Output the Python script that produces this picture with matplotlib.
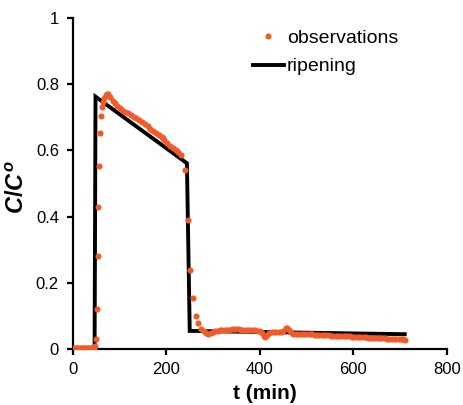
import matplotlib
matplotlib.use("Agg")
import matplotlib.pyplot as plt

plt.rcParams['font.family'] = ['Liberation Sans', 'DejaVu Sans']
plt.rcParams['mathtext.fontset'] = 'custom'
plt.rcParams['mathtext.it'] = 'Liberation Sans:italic:bold'
plt.rcParams['mathtext.rm'] = 'Liberation Sans:bold'

# observations (t in min, C/Co)
obs_t = [0, 3, 6, 9, 12, 15, 18, 21, 24, 27, 30, 33, 36, 39, 42, 45, 47,
         49.2, 50.7, 52.8, 54.1, 56.3, 57.8, 59.9, 61.4,
         64, 67, 70, 73, 76, 80, 85, 90, 95, 100, 106, 112, 118, 124, 130, 136,
         142, 148, 154, 160, 166, 172, 178, 184, 190, 193, 196, 202, 208, 214,
         220, 226, 232,
         239.6, 245.3, 251, 257.4, 263, 268, 275,
         280, 285, 290, 295, 300, 305, 310, 315, 320, 325, 330, 335, 340, 345,
         350, 355, 360, 365, 370, 375, 380, 385, 390, 395, 400, 405, 409, 412,
         416, 420, 425, 430, 435, 440, 445, 450, 455, 459, 463, 467, 472, 477,
         482, 487, 492, 497, 502, 507, 512, 517, 522, 527, 532, 537, 542, 547,
         552, 557, 562, 567, 572, 577, 582, 587, 592, 597, 602, 607, 612, 617,
         622, 627, 632, 637, 642, 647, 652, 657, 662, 667, 672, 677, 682, 687,
         692, 697, 702, 707, 710]
obs_c = [0.002, 0.002, 0.002, 0.002, 0.002, 0.002, 0.002, 0.002, 0.002, 0.002,
         0.002, 0.002, 0.002, 0.003, 0.003, 0.004, 0.008,
         0.03, 0.12, 0.28, 0.43, 0.553, 0.653, 0.704, 0.732,
         0.745, 0.758, 0.766, 0.771, 0.771, 0.762, 0.750, 0.742, 0.735, 0.728,
         0.722, 0.717, 0.712, 0.707, 0.702, 0.697, 0.693, 0.686, 0.679, 0.672,
         0.665, 0.659, 0.652, 0.645, 0.640, 0.636, 0.630, 0.622, 0.613, 0.606,
         0.600, 0.594, 0.586,
         0.542, 0.39, 0.24, 0.153, 0.10, 0.078, 0.060,
         0.055, 0.049, 0.047, 0.049, 0.052, 0.054, 0.056, 0.057, 0.058, 0.058,
         0.059, 0.059, 0.060, 0.060, 0.060, 0.060, 0.059, 0.059, 0.059, 0.058,
         0.058, 0.057, 0.057, 0.056, 0.055, 0.050, 0.040, 0.037, 0.044, 0.049,
         0.051, 0.051, 0.051, 0.052, 0.053, 0.056, 0.063, 0.065, 0.058, 0.051,
         0.047, 0.047, 0.047, 0.046, 0.046, 0.046, 0.045, 0.045, 0.045, 0.044,
         0.044, 0.043, 0.043, 0.042, 0.042, 0.042, 0.041, 0.041, 0.040, 0.040,
         0.040, 0.039, 0.039, 0.039, 0.039, 0.038, 0.038, 0.037, 0.037, 0.036,
         0.036, 0.036, 0.035, 0.035, 0.035, 0.034, 0.034, 0.033, 0.033, 0.033,
         0.032, 0.032, 0.032, 0.031, 0.031, 0.030, 0.030, 0.030, 0.029]

# ripening model
rip_t = [0, 46.5, 48.5, 244, 250, 710]
rip_c = [0.0, 0.0, 0.762, 0.561, 0.055, 0.045]

x_ticks = [0, 200, 400, 600, 800]
y_ticks = [0, 0.2, 0.4, 0.6, 0.8, 1]
y_tick_labels = ['0', '0.2', '0.4', '0.6', '0.8', '1']

fig = plt.figure(figsize=(4.64, 4.05), dpi=100)
ax = fig.add_axes([0.157, 0.138, 0.806, 0.818])

ax.plot(obs_t, obs_c, 'o', color='#F15A29', markersize=4.4, markeredgewidth=0,
        label='observations', zorder=3)
ax.plot(rip_t, rip_c, '-', color='black', linewidth=2.8, label='ripening',
        zorder=2, solid_joinstyle='miter')

ax.set_xlim(0, 800)
ax.set_ylim(0, 1)
ax.set_xticks(x_ticks)
ax.set_yticks(y_ticks)
ax.set_yticklabels(y_tick_labels)

for s in ['top', 'right']:
    ax.spines[s].set_visible(False)
for s in ['left', 'bottom']:
    ax.spines[s].set_linewidth(1.6)
ax.tick_params(axis='both', direction='out', length=4, width=1.6, labelsize=12)
ax.tick_params(axis='y', pad=6)
ax.tick_params(axis='x', pad=5)

ax.set_xlabel('t (min)', fontsize=15, fontweight='bold')
ax.xaxis.set_label_coords(0.513, -0.105)
ax.set_ylabel(r'$C/C^o$', fontsize=17)
ax.yaxis.set_label_coords(-0.118, 0.49)

leg = ax.legend(loc='upper left', bbox_to_anchor=(0.46, 0.988), frameon=False,
                fontsize=14, handlelength=1.6, handletextpad=0.15,
                labelspacing=0.55, borderaxespad=0)

fig.savefig('out.png', dpi=100)
